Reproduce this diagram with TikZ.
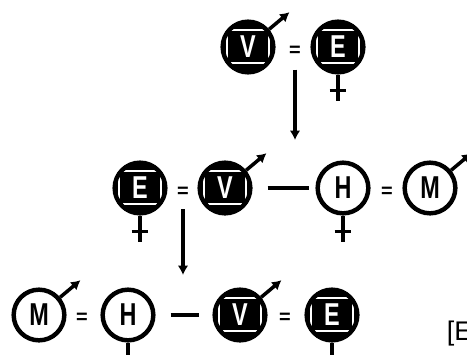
\documentclass[tikz,border=0pt]{standalone}
\usepackage{fontspec}
\setsansfont{Liberation Sans}
\usetikzlibrary{arrows.meta,positioning}

\newcommand{\slim}[1]{\scalebox{0.74}[1]{#1}}

\begin{document}
\begin{tikzpicture}[
    >={Latex[length=8pt,width=9pt]},
    font=\bfseries\sffamily,
    person/.style={
		circle,
		draw=black,
		line width=3.8pt,
		minimum size=1.52cm,
		inner sep=0pt,
		fill=white,
		font=\bfseries\sffamily\fontsize{27}{27}\selectfont
	},
	dark/.style={
		person,
		text=white,
		path picture={
			\fill[black] (path picture bounding box.south west) rectangle (path picture bounding box.north east);
			\draw[white, line width=1.5pt] ([shift={(-0.64,-0.48)}]path picture bounding box.center) rectangle ([shift={(0.64,0.52)}]path picture bounding box.center);
		}
	},
	eqsign/.style={
		inner sep=0pt,
		font=\bfseries\sffamily\fontsize{17}{17}\selectfont
	},
	tie/.style={line width=3pt},
	descent/.style={line width=2.6pt, ->},
	mars/.style={line width=3pt, ->},
	venus/.style={line width=3pt}
  ]
  \useasboundingbox (0,0) rectangle (14.01,-10.62);

    % first generation
  \node [dark] (v1) at (7.44,-1.41) {\slim{V}};
  \node [dark] (e1) at (10.14,-1.41) {\slim{E}};
  \node [eqsign] (eq1) at (8.85,-1.53) {=};

    % second generation
  \node [dark] (e2) at (4.2,-5.64) {\slim{E}};
  \node [dark] (v2) at (6.75,-5.64) {\slim{V}};
  \node [person] (h2) at (10.29,-5.64) {\slim{H}};
  \node [person] (m2) at (12.9,-5.64) {\slim{M}};
  \node [eqsign] (eq2) at (5.49,-5.76) {=};
  \node [eqsign] (eq2b) at (11.61,-5.76) {=};

    % third generation
  \node [person] (m3) at (1.17,-9.45) {\slim{M}};
  \node [person] (h3) at (3.84,-9.45) {\slim{H}};
  \node [dark] (v3) at (7.2,-9.45) {\slim{V}};
  \node [dark] (e3) at (9.96,-9.45) {\slim{E}};
  \node [eqsign] (eq3) at (2.46,-9.54) {=};
  \node [eqsign] (eq3b) at (8.55,-9.54) {=};

  \node [anchor=west, inner sep=0pt, font=\sffamily\fontsize{23}{23}\selectfont] (ref) at (13.4,-10.0) {[E};

  \coordinate (t1) at (8.85,-4.2);
  \coordinate (t2) at (5.49,-8.25);

    % lines of descent and ties
  \draw [descent, shorten <=0.4cm] (eq1) -- (t1);
  \draw [descent, shorten <=0.35cm] (eq2) -- (t2);
  \draw [tie, shorten <=0.45cm, shorten >=0.2cm] (v2) -- (h2);
  \draw [tie, shorten <=0.45cm, shorten >=0.4cm] (h3) -- (v3);

    % sex symbols
  \foreach \n in {v1,v2,m2,m3,v3}
    \draw [mars] (\n.40) -- ++(40:0.8);
  \foreach \n in {e1,e2,h2,h3,e3}
    \draw [venus] (\n.south) -- ++(0,-0.78)
      ([xshift=-0.25cm,yshift=-0.48cm]\n.south) -- ++(0.5,0);

\end{tikzpicture}
\end{document}
